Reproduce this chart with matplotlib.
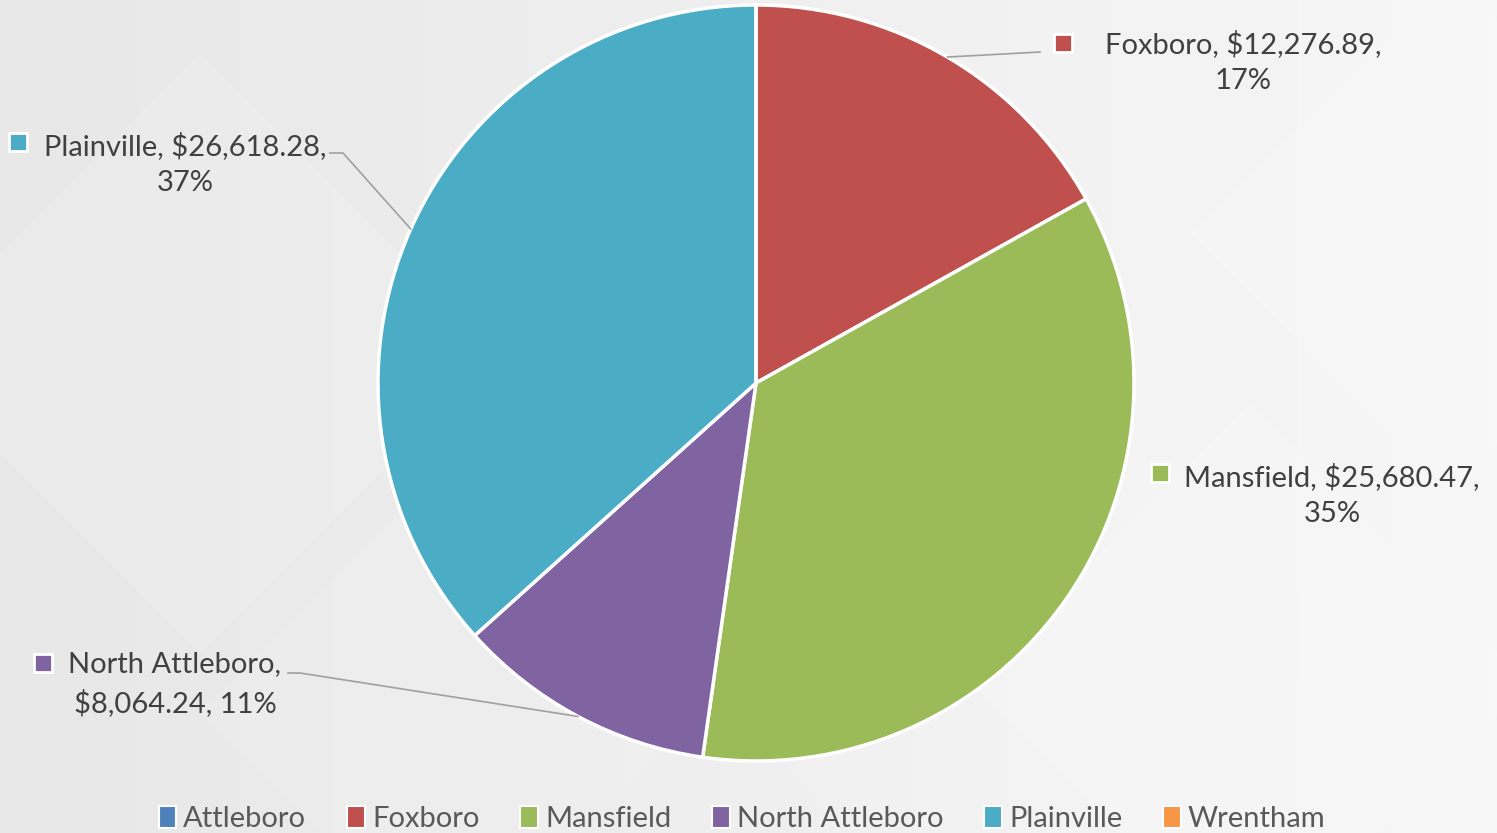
import numpy as np
import matplotlib
matplotlib.use('Agg')
import matplotlib.pyplot as plt
import matplotlib.patches as mpatches

plt.rcParams['font.family'] = ['Lato', 'DejaVu Sans']

# data
towns = ['Attleboro', 'Foxboro', 'Mansfield', 'North Attleboro', 'Plainville', 'Wrentham']
amounts = [0.0, 12276.89, 25680.47, 8064.24, 26618.28, 0.0]
colors = ['#4F81BD', '#C0504D', '#9BBB59', '#8064A2', '#4BACC6', '#F79646']

# label layout in pixel coordinates (from the top)
label_spots = {
    'Foxboro': dict(x=1243, y=62, mx=1063, my=43, elbow=None),
    'Mansfield': dict(x=1332, y=495, mx=1160, my=473, elbow=None),
    'North Attleboro': dict(x=175, y=684, mx=43, my=663, elbow=(288, 300, 673)),
    'Plainville': dict(x=185, y=164, mx=18, my=142, elbow=(330, 343, 153)),
}
label_text = {
    'Foxboro': 'Foxboro, $12,276.89,\n17%',
    'Mansfield': 'Mansfield, $25,680.47,\n35%',
    'North Attleboro': 'North Attleboro,\n$8,064.24, 11%',
    'Plainville': 'Plainville, $26,618.28,\n37%',
}

W, H = 1497, 833
fig = plt.figure(figsize=(W / 100, H / 100), dpi=100)
ax = fig.add_axes([0, 0, 1, 1])

# light grey background, a bit lighter to the right
gx = np.linspace(0, 1, 300)
gy = np.linspace(0, 1, 200)
GX, GY = np.meshgrid(gx, gy)
bg = 0.91 + 0.055 * np.clip(GX * 1.1 - 0.1, 0, 1)
ax.imshow(bg, extent=[0, W, 0, H], cmap='gray', vmin=0, vmax=1, aspect='auto', zorder=0)

# faint diamond shapes in the background
for cx, cy, s, a in [(200, 480, 300, 0.12), (1450, 600, 260, 0.2), (1000, 200, 350, 0.1),
                     (450, 120, 250, 0.1), (1250, 150, 280, 0.18)]:
    d = mpatches.Polygon([(cx, cy + s), (cx + s, cy), (cx, cy - s), (cx - s, cy)],
                         closed=True, facecolor='white', edgecolor='none', alpha=a, zorder=0.5)
    ax.add_patch(d)

cx0, cy0, R = 756, H - 383, 378
wedges, _ = ax.pie(amounts, colors=colors, startangle=90, counterclock=False,
                   center=(cx0, cy0), radius=R, frame=True,
                   wedgeprops=dict(edgecolor='white', linewidth=2.5))
for w in wedges:
    w.set_zorder(2)
ax.set_xlim(0, W)
ax.set_ylim(0, H)
ax.set_aspect('auto')
ax.axis('off')

txt_color = '#404040'
for town, w in zip(towns, wedges):
    if town not in label_spots:
        continue
    sp = label_spots[town]
    ax.text(sp['x'], H - sp['y'], label_text[town], ha='center', va='center',
            fontsize=21, color=txt_color, linespacing=1.5, zorder=4)
    ax.add_patch(mpatches.Rectangle((sp['mx'] - 9, H - sp['my'] - 9), 18, 18,
                                    facecolor=w.get_facecolor(), edgecolor='white',
                                    linewidth=2, zorder=4))
    # leader line to the middle of the wedge edge
    mid = np.deg2rad((w.theta1 + w.theta2) / 2)
    ex, ey = cx0 + R * np.cos(mid), cy0 + R * np.sin(mid)
    if town == 'Foxboro':
        ax.plot([ex, 1040], [ey, H - 52], color='#a0a0a0', lw=1.2, zorder=3)
    elif sp['elbow'] is not None:
        x1, x2, yy = sp['elbow']
        ax.plot([x1, x2, ex], [H - yy, H - yy, ey], color='#a0a0a0', lw=1.2, zorder=3)

handles = [mpatches.Rectangle((0, 0), 1, 1, facecolor=c, edgecolor='white', linewidth=1.5)
           for c in colors]
leg = ax.legend(handles, towns, loc='center', bbox_to_anchor=(742 / W, 1 - 819 / H),
                ncol=6, frameon=False, fontsize=21, handlelength=0.6, handleheight=0.75,
                handletextpad=0.25, columnspacing=1.4, labelcolor='#595959',
                borderpad=0, borderaxespad=0)

fig.savefig('out.png', dpi=100)
